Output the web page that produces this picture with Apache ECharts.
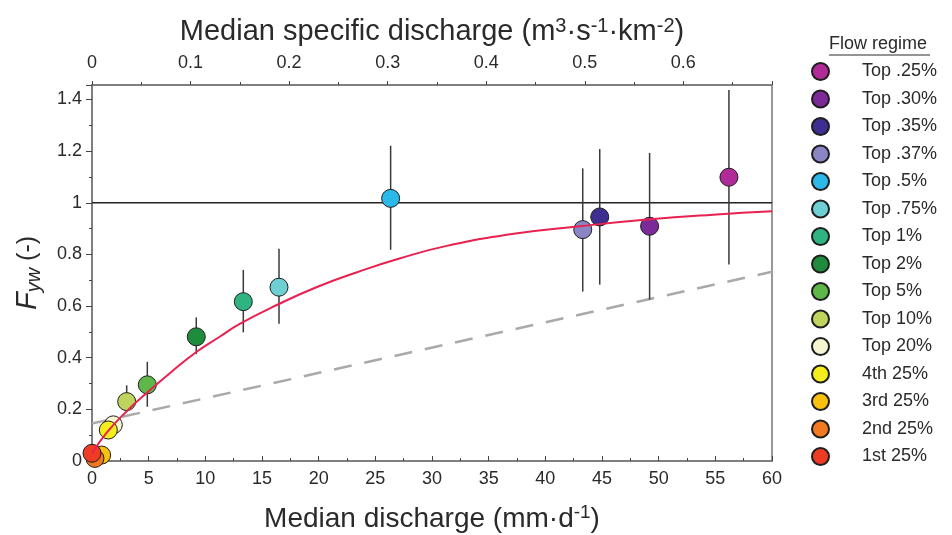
<!DOCTYPE html>
<html><head><meta charset="utf-8">
<script src="https://cdn.jsdelivr.net/npm/echarts@6/dist/echarts.min.js"></script>
<style>html,body{margin:0;padding:0;background:#fff}#c{width:952px;height:535px}</style>
</head><body><div id="c"></div>
<script>
// ---- data ----
const regimes = ['Top .25%','Top .30%','Top .35%','Top .37%','Top .5%','Top .75%','Top 1%','Top 2%','Top 5%','Top 10%','Top 20%','4th 25%','3rd 25%','2nd 25%','1st 25%'];
const regimeColors = ['#b02a98','#7b2a98','#3f2e92','#8a86c6','#2bb9ea','#6fd0d4','#2fb481','#1f8b3d','#5db849','#bfd45c','#f6f5d2','#f6ee1c','#f8c10f','#f07922','#ee3b24'];
const medianQ = [56.2, 49.2, 44.8, 43.3, 26.35, 16.5, 13.35, 9.2, 4.88, 3.06, 1.88, 1.44, 0.85, 0.26, 0.0];
const fyw     = [1.099, 0.909, 0.945, 0.896, 1.017, 0.673, 0.617, 0.481, 0.295, 0.230, 0.140, 0.120, 0.023, 0.010, 0.030];
const fywLow  = [0.761, 0.625, 0.683, 0.656, 0.818, 0.531, 0.498, 0.414, 0.210, 0.190, 0.120, 0.105, 0.015, 0.005, 0.020];
const fywHigh = [1.437, 1.193, 1.208, 1.133, 1.221, 0.822, 0.740, 0.556, 0.384, 0.293, 0.155, 0.135, 0.030, 0.015, 0.040];
const fitQ = [0, 1.3, 3, 5, 7, 9.3, 11.3, 13, 16.4, 19.8, 23.4, 27.2, 31.3, 37.2, 43, 49, 54.8, 60];
const fitF = [0.03, 0.11, 0.19, 0.27, 0.345, 0.425, 0.482, 0.53, 0.606, 0.673, 0.731, 0.785, 0.833, 0.88, 0.909, 0.935, 0.954, 0.967];
const linQ = [0, 60];
const linF = [0.145, 0.733];
const refQ = [0, 60];
const refF = [1, 1];
const qMin = 0, qMax = 60, qInterval = 5;
const fMin = 0, fMax = 1.456, fInterval = 0.2;
const sMin = 0, sMax = 0.69, sInterval = 0.1;

// ---- chart ----
const chart = echarts.init(document.getElementById('c'), null, {renderer: 'canvas'});
const axisCol = '#777';
const txtCol = '#2a2a2a';
const font = 'Liberation Sans, Arial, sans-serif';

const series = [];
series.push({
  type: 'line', name: 'ref', data: refQ.map((q, i) => [q, refF[i]]),
  symbol: 'none', lineStyle: {color: '#222', width: 1.3}, silent: true, z: 2
});
series.push({
  type: 'line', name: 'linear', data: linQ.map((q, i) => [q, linF[i]]),
  symbol: 'none', lineStyle: {color: '#a9a9a9', width: 2.5, type: [18, 13]}, silent: true, z: 2
});
series.push({
  type: 'custom', name: 'err', silent: true, z: 3,
  data: medianQ.map((q, i) => [q, fywLow[i], fywHigh[i]]),
  encode: {x: 0, y: [1, 2]},
  renderItem: function (params, api) {
    const p1 = api.coord([api.value(0), api.value(1)]);
    const p2 = api.coord([api.value(0), api.value(2)]);
    return {type: 'line', shape: {x1: p1[0], y1: p1[1], x2: p2[0], y2: p2[1]},
      style: {stroke: '#3a3a3a', lineWidth: 1.5}};
  }
});
regimes.forEach((r, i) => {
  series.push({
    type: 'scatter', name: r, data: [[medianQ[i], fyw[i]]],
    symbol: 'circle', symbolSize: 18, z: 4,
    itemStyle: {color: regimeColors[i], borderColor: '#1e1e1e', borderWidth: 1, opacity: 1}
  });
});
series.push({
  type: 'line', name: 'fit', data: fitQ.map((q, i) => [q, fitF[i]]),
  smooth: 0.5, symbol: 'none', lineStyle: {color: '#e8214f', width: 2}, silent: true, z: 5
});

chart.setOption({
  animation: false,
  backgroundColor: '#fff',
  textStyle: {fontFamily: font},
  grid: {left: 92, right: 180, top: 85, bottom: 74, outerBoundsMode: 'none', containLabel: false,
    show: true, borderColor: axisCol, borderWidth: 1.5, backgroundColor: 'transparent'},
  legend: {
    data: regimes, orient: 'vertical', left: 806, top: 57,
    itemWidth: 17, itemHeight: 17, itemGap: 8.5, icon: 'circle',
    textStyle: {fontSize: 18, color: txtCol, fontFamily: font, padding: [0, 0, 0, 28], lineHeight: 17},
    selectedMode: false
  },
  graphic: [
    {type: 'text', left: 829, top: 35, style: {text: 'Flow regime', fontSize: 18, fill: txtCol, fontFamily: font}},
    {type: 'line', shape: {x1: 829, y1: 55, x2: 930, y2: 55}, style: {stroke: txtCol, lineWidth: 1}}
  ],
  xAxis: [
    {
      type: 'value', position: 'bottom', min: qMin, max: qMax, interval: qInterval,
      axisLine: {show: true, lineStyle: {color: axisCol, width: 1.5}},
      axisTick: {show: true, inside: true, length: 5, lineStyle: {color: '#444'}},
      minorTick: {show: true, splitNumber: 2, length: 3, lineStyle: {color: '#444'}},
      splitLine: {show: false},
      axisLabel: {fontSize: 18, color: txtCol, margin: 9, fontFamily: font},
      name: 'Median discharge (mm·d{sup|-1})', nameLocation: 'middle', nameGap: 42,
      nameTextStyle: {fontSize: 28, color: txtCol, fontFamily: font, lineHeight: 32,
        rich: {sup: {fontSize: 19, verticalAlign: 'top', lineHeight: 19, fontFamily: font, color: txtCol}}}
    },
    {
      type: 'value', position: 'top', min: sMin, max: sMax, interval: sInterval,
      axisLine: {show: true, lineStyle: {color: axisCol, width: 1.5}},
      axisTick: {show: true, inside: false, length: 4, lineStyle: {color: '#444'}},
      minorTick: {show: true, splitNumber: 2, length: 3, lineStyle: {color: '#444'}},
      splitLine: {show: false},
      axisLabel: {fontSize: 18, color: txtCol, margin: 13, showMaxLabel: false, fontFamily: font},
      name: 'Median specific discharge (m{sup|3}·s{sup|-1}·km{sup|-2})', nameLocation: 'middle', nameGap: 37,
      nameTextStyle: {fontSize: 29, color: txtCol, fontFamily: font, lineHeight: 32,
        rich: {sup: {fontSize: 20, verticalAlign: 'top', lineHeight: 20, fontFamily: font, color: txtCol}}}
    }
  ],
  yAxis: [{
    type: 'value', min: fMin, max: fMax, interval: fInterval,
    axisLine: {show: true, lineStyle: {color: axisCol, width: 1.5}},
    axisTick: {show: true, inside: false, length: 6, lineStyle: {color: '#444'}},
    minorTick: {show: true, splitNumber: 2, length: 3, lineStyle: {color: '#444'}},
    splitLine: {show: false},
    axisLabel: {fontSize: 18, color: txtCol, margin: 10, showMaxLabel: false, fontFamily: font},
    name: '{f|F}{s|yw} (-)', nameLocation: 'middle', nameGap: 48, nameRotate: 90,
    nameTextStyle: {fontSize: 25, color: txtCol, fontFamily: font, lineHeight: 32,
      rich: {f: {fontSize: 29, fontStyle: 'italic', fontFamily: font, color: txtCol, lineHeight: 32},
             s: {fontSize: 20, fontStyle: 'italic', fontFamily: font, color: txtCol, verticalAlign: 'bottom', lineHeight: 20}}}
  }],
  series: series
});
</script></body></html>
